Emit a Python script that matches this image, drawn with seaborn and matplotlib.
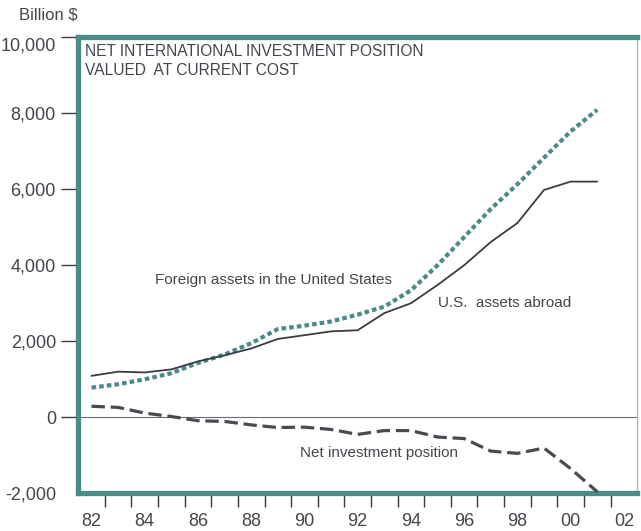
import matplotlib
matplotlib.use("Agg")
import matplotlib.pyplot as plt
import seaborn as sns
import pandas as pd
from matplotlib.ticker import FixedLocator

years = list(range(1982, 2002))
us_assets = [1090, 1200, 1180, 1260, 1470, 1630, 1810, 2060, 2160, 2260, 2290, 2740, 3000,
             3480, 4000, 4610, 5110, 5980, 6200, 6200]
foreign_assets = [780, 870, 1000, 1160, 1430, 1650, 1950, 2320, 2410, 2520, 2700, 2910, 3340,
                  4000, 4740, 5480, 6130, 6830, 7520, 8090]
net_position = [290, 260, 110, 20, -90, -110, -200, -270, -260, -320, -450, -350, -350,
                -520, -560, -890, -950, -810, -1350, -1960]

y_ticks = [-2000, 0, 2000, 4000, 6000, 8000, 10000]
y_labels = ["-2,000", "0", "2,000", "4,000", "6,000", "8,000", "10,000"]
x_label_years = list(range(1982, 2003, 2))
x_labels = ["82", "84", "86", "88", "90", "92", "94", "96", "98", "00", "02"]

df = pd.DataFrame({"year": years, "us": us_assets, "foreign": foreign_assets, "net": net_position})

sns.set_style("white")
plt.rcParams['font.family'] = ['Liberation Sans', 'DejaVu Sans']

teal = "#4a8b86"
dark = "#3b3b45"
text_col = "#45454d"

fig = plt.figure(figsize=(6.41, 5.31), dpi=100)
ax = fig.add_axes([0.122, 0.071, 0.872, 0.859])

ax.axhline(0, color="#6a6a70", lw=0.8, zorder=1)

sns.lineplot(data=df, x="year", y="us", ax=ax, color=dark, lw=1.3, zorder=3)
sns.lineplot(data=df, x="year", y="foreign", ax=ax, color=teal, lw=3.0, zorder=2,
             linestyle=(0, (1.1, 0.75)))
sns.lineplot(data=df, x="year", y="net", ax=ax, color="#4a4a52", lw=2.3, zorder=3,
             linestyle=(0, (4.2, 1.8)))

ax.set_xlim(1981.5, 2002.5)
ax.set_ylim(-2000, 10000)
ax.set_xlabel("")
ax.set_ylabel("")

ax.xaxis.set_major_locator(FixedLocator(x_label_years))
ax.set_xticklabels(x_labels)
ax.xaxis.set_minor_locator(FixedLocator([y + 0.5 for y in range(1982, 2002)]))
ax.tick_params(axis="x", which="major", length=0, pad=14, labelsize=13, labelcolor=text_col)
ax.tick_params(axis="x", which="minor", length=10, width=1.0, color=dark, direction="out", bottom=True)

ax.set_yticks(y_ticks)
ax.set_yticklabels(y_labels)
ax.tick_params(axis="y", length=12, width=1.0, color=dark, direction="out", left=True, pad=4,
               labelsize=13, labelcolor=text_col)
ax.get_yticklabels()[-1].set_va("top")
ax.yaxis.get_major_ticks()[0].tick1line.set_visible(False)

for side in ["left", "top", "bottom"]:
    ax.spines[side].set_color(teal)
    ax.spines[side].set_linewidth(3.8)
ax.spines["right"].set_color("#9fbfbc")
ax.spines["right"].set_linewidth(1.0)

ax.text(0.012, 0.985, "NET INTERNATIONAL INVESTMENT POSITION\nVALUED  AT CURRENT COST",
        transform=ax.transAxes, ha="left", va="top", fontsize=11.2, color=text_col, linespacing=1.35)
ax.text(1984.4, 3600, "Foreign assets in the United States", fontsize=11, color=text_col,
        ha="left", va="center")
ax.text(1995.0, 3000, "U.S.  assets abroad", fontsize=11, color=text_col, ha="left", va="center")
ax.text(1989.85, -940, "Net investment position", fontsize=11, color=text_col, ha="left", va="center")

fig.text(0.03, 0.972, "Billion $", fontsize=12, color=text_col, ha="left", va="center")

fig.savefig("out.png", dpi=100)
